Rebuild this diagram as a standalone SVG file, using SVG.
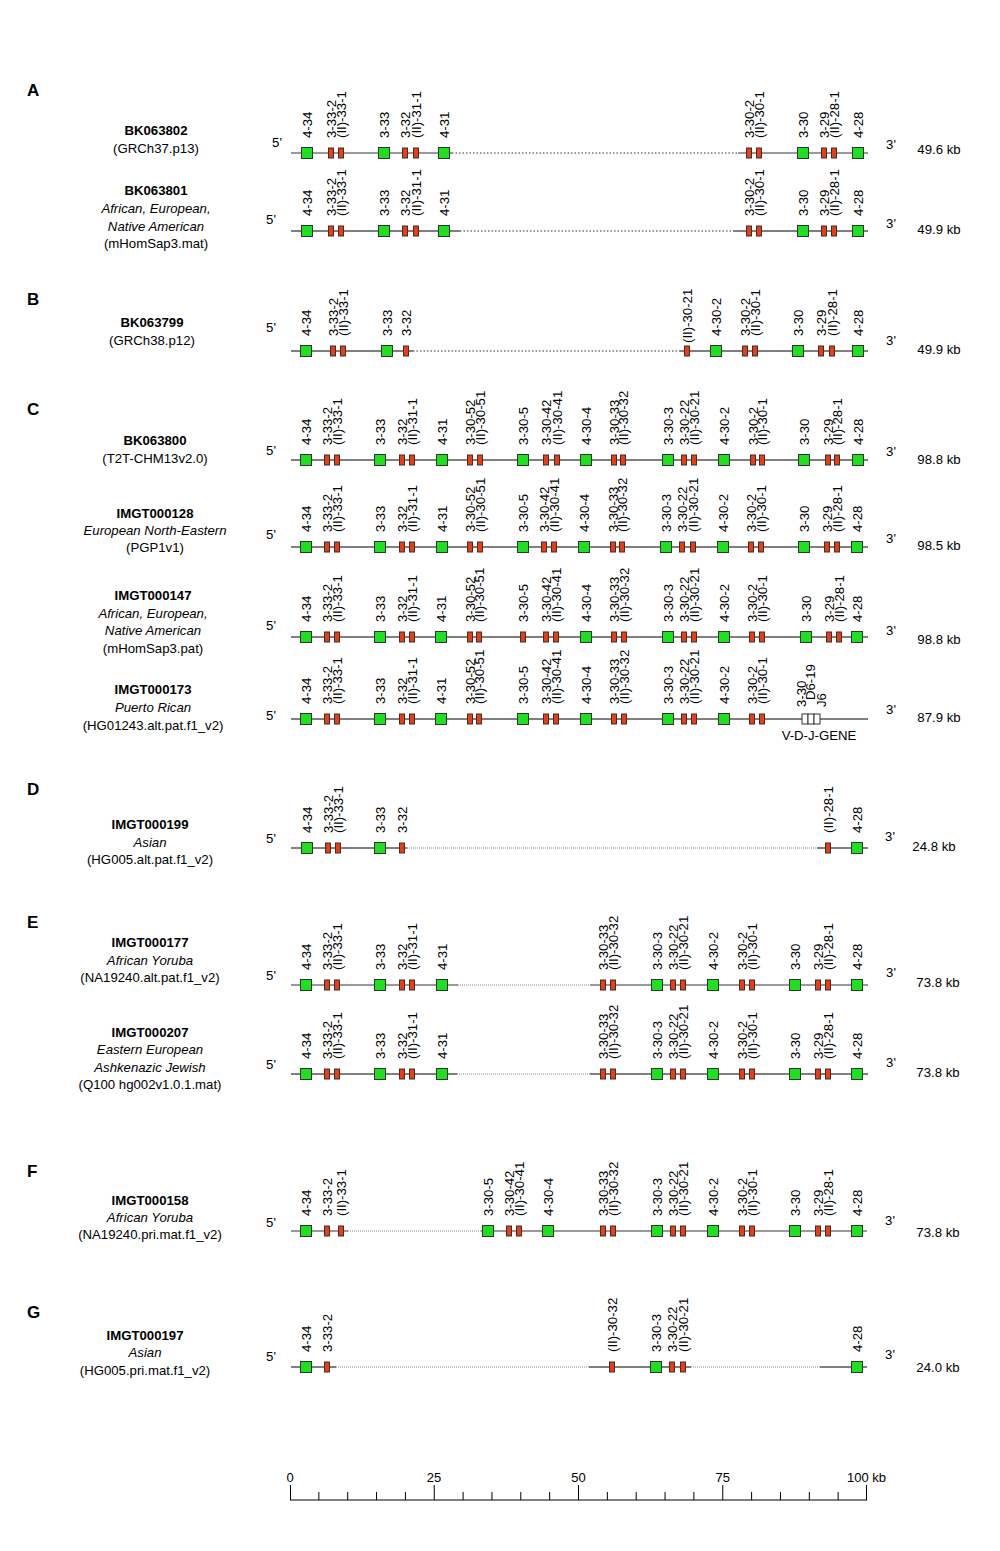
<svg xmlns="http://www.w3.org/2000/svg" width="1000" height="1551" viewBox="0 0 1000 1551">
<style>
text{font-family:"Liberation Sans",Arial,Helvetica,sans-serif;fill:#000}
.G{fill:#1ee01e;stroke:#333;stroke-width:1}
.R{fill:#f03a10;stroke:#333;stroke-width:1}
.W{fill:#fff;stroke:#333;stroke-width:1}
.t text{font-size:13.2px}
.sl{font-size:14.7px;text-anchor:middle}
.b{font-weight:bold}
.i{font-style:italic}
.end{font-size:13.5px;text-anchor:middle}
.kb{font-size:14px;text-anchor:middle}
.sec{font-size:17px;font-weight:bold}
.s{stroke:#000;stroke-width:1;fill:none}
.sg{stroke:#777;stroke-width:1.6;fill:none}
.d{stroke:#333;stroke-width:1;stroke-dasharray:1.5 2;fill:none}
.df{stroke:#888;stroke-width:1;stroke-dasharray:1 1;fill:none}
.sc{stroke:#000;stroke-width:1;fill:none}
.scl{font-size:13px;text-anchor:middle}
</style>
<rect width="1000" height="1551" fill="#fff"/>

<g id="section-letters">
<text class="sec" x="27" y="96">A</text>
<text class="sec" x="27" y="305">B</text>
<text class="sec" x="27" y="415">C</text>
<text class="sec" x="27" y="795">D</text>
<text class="sec" x="27" y="928">E</text>
<text class="sec" x="27" y="1177">F</text>
<text class="sec" x="27" y="1318">G</text>
</g>

<g id="connectors">
<line class="sg" x1="291" y1="153" x2="452" y2="153"/><line class="d" x1="452" y1="153" x2="738" y2="153"/><line class="sg" x1="738" y1="153" x2="868" y2="153"/>
<line class="s" x1="291" y1="231" x2="460" y2="231"/><line class="d" x1="460" y1="231" x2="733" y2="231"/><line class="s" x1="733" y1="231" x2="868" y2="231"/>
<line class="s" x1="291" y1="351" x2="413" y2="351"/><line class="d" x1="413" y1="351" x2="680" y2="351"/><line class="s" x1="680" y1="351" x2="868" y2="351"/>
<line class="s" x1="291" y1="460" x2="868" y2="460"/>
<line class="s" x1="291" y1="547" x2="868" y2="547"/>
<line class="s" x1="291" y1="637" x2="868" y2="637"/>
<line class="s" x1="291" y1="719" x2="868" y2="719"/>
<line class="s" x1="291" y1="848" x2="407" y2="848"/><line class="df" x1="407" y1="848" x2="817" y2="848"/><line class="s" x1="817" y1="848" x2="868" y2="848"/>
<line class="sg" x1="291" y1="985" x2="458" y2="985"/><line class="df" x1="458" y1="985" x2="590" y2="985"/><line class="sg" x1="590" y1="985" x2="868" y2="985"/>
<line class="s" x1="291" y1="1074" x2="457" y2="1074"/><line class="df" x1="457" y1="1074" x2="590" y2="1074"/><line class="s" x1="590" y1="1074" x2="868" y2="1074"/>
<line class="sg" x1="291" y1="1231" x2="348" y2="1231"/><line class="df" x1="348" y1="1231" x2="481" y2="1231"/><line class="sg" x1="481" y1="1231" x2="867" y2="1231"/>
<line class="s" x1="291" y1="1367" x2="336" y2="1367"/><line class="df" x1="336" y1="1367" x2="589" y2="1367"/><line class="s" x1="589" y1="1367" x2="691" y2="1367"/><line class="df" x1="691" y1="1367" x2="820" y2="1367"/><line class="s" x1="820" y1="1367" x2="867" y2="1367"/>
</g>

<!-- A1 -->
<g id="track-BK063802" class="t">
<text class="sl b" x="156" y="135">BK063802</text>
<text class="sl" x="156" y="153">(GRCh37.p13)</text>
<text class="end" x="277" y="146.5">5'</text><text class="end" x="891" y="149">3'</text><text class="kb" x="939" y="154">49.6 kb</text>
<rect class="G" x="301.5" y="147.5" width="11" height="11"/><text transform="translate(311.6,138) rotate(-90)">4-34</text>
<rect class="R" x="328.5" y="148" width="5" height="10"/><text transform="translate(335.6,138) rotate(-90)">3-33-2</text>
<rect class="R" x="338.5" y="148" width="5" height="10"/><text transform="translate(345.6,138) rotate(-90)">(II)-33-1</text>
<rect class="G" x="378.5" y="147.5" width="11" height="11"/><text transform="translate(388.6,138) rotate(-90)">3-33</text>
<rect class="R" x="402.5" y="148" width="5" height="10"/><text transform="translate(409.6,138) rotate(-90)">3-32</text>
<rect class="R" x="413.5" y="148" width="5" height="10"/><text transform="translate(420.6,138) rotate(-90)">(II)-31-1</text>
<rect class="G" x="438.5" y="147.5" width="11" height="11"/><text transform="translate(448.6,138) rotate(-90)">4-31</text>
<rect class="R" x="746.5" y="148" width="5" height="10"/><text transform="translate(753.6,138) rotate(-90)">3-30-2</text>
<rect class="R" x="756.5" y="148" width="5" height="10"/><text transform="translate(763.6,138) rotate(-90)">(II)-30-1</text>
<rect class="G" x="797.5" y="147.5" width="11" height="11"/><text transform="translate(807.6,138) rotate(-90)">3-30</text>
<rect class="R" x="821.5" y="148" width="5" height="10"/><text transform="translate(828.6,138) rotate(-90)">3-29</text>
<rect class="R" x="831.5" y="148" width="5" height="10"/><text transform="translate(838.6,138) rotate(-90)">(II)-28-1</text>
<rect class="G" x="852.5" y="147.5" width="11" height="11"/><text transform="translate(862.6,138) rotate(-90)">4-28</text>
</g>

<!-- A2 -->
<g id="track-BK063801" class="t">
<text class="sl b" x="156" y="195">BK063801</text>
<text class="sl i" x="156" y="213">African, European,</text>
<text class="sl i" x="156" y="230.5">Native American</text>
<text class="sl" x="156" y="248">(mHomSap3.mat)</text>
<text class="end" x="271" y="224">5'</text><text class="end" x="891" y="228">3'</text><text class="kb" x="939" y="234">49.9 kb</text>
<rect class="G" x="301.5" y="225.5" width="11" height="11"/><text transform="translate(311.6,216) rotate(-90)">4-34</text>
<rect class="R" x="328.5" y="226" width="5" height="10"/><text transform="translate(335.6,216) rotate(-90)">3-33-2</text>
<rect class="R" x="338.5" y="226" width="5" height="10"/><text transform="translate(345.6,216) rotate(-90)">(II)-33-1</text>
<rect class="G" x="378.5" y="225.5" width="11" height="11"/><text transform="translate(388.6,216) rotate(-90)">3-33</text>
<rect class="R" x="402.5" y="226" width="5" height="10"/><text transform="translate(409.6,216) rotate(-90)">3-32</text>
<rect class="R" x="413.5" y="226" width="5" height="10"/><text transform="translate(420.6,216) rotate(-90)">(II)-31-1</text>
<rect class="G" x="438.5" y="225.5" width="11" height="11"/><text transform="translate(448.6,216) rotate(-90)">4-31</text>
<rect class="R" x="746.5" y="226" width="5" height="10"/><text transform="translate(753.6,216) rotate(-90)">3-30-2</text>
<rect class="R" x="756.5" y="226" width="5" height="10"/><text transform="translate(763.6,216) rotate(-90)">(II)-30-1</text>
<rect class="G" x="797.5" y="225.5" width="11" height="11"/><text transform="translate(807.6,216) rotate(-90)">3-30</text>
<rect class="R" x="821.5" y="226" width="5" height="10"/><text transform="translate(828.6,216) rotate(-90)">3-29</text>
<rect class="R" x="831.5" y="226" width="5" height="10"/><text transform="translate(838.6,216) rotate(-90)">(II)-28-1</text>
<rect class="G" x="852.5" y="225.5" width="11" height="11"/><text transform="translate(862.6,216) rotate(-90)">4-28</text>
</g>

<!-- B -->
<g id="track-BK063799" class="t">
<text class="sl b" x="152" y="327">BK063799</text>
<text class="sl" x="152" y="345">(GRCh38.p12)</text>
<text class="end" x="271" y="331.5">5'</text><text class="end" x="891" y="345">3'</text><text class="kb" x="939" y="354">49.9 kb</text>
<rect class="G" x="300.5" y="345.5" width="11" height="11"/><text transform="translate(310.6,336) rotate(-90)">4-34</text>
<rect class="R" x="330.5" y="346" width="5" height="10"/><text transform="translate(337.6,336) rotate(-90)">3-33-2</text>
<rect class="R" x="340.5" y="346" width="5" height="10"/><text transform="translate(347.6,336) rotate(-90)">(II)-33-1</text>
<rect class="G" x="381.5" y="345.5" width="11" height="11"/><text transform="translate(391.6,336) rotate(-90)">3-33</text>
<rect class="R" x="403.5" y="346" width="5" height="10"/><text transform="translate(410.6,336) rotate(-90)">3-32</text>
<rect class="R" x="684.5" y="346" width="5" height="10"/><text transform="translate(691.6,343) rotate(-90)">(II)-30-21</text>
<rect class="G" x="710.5" y="345.5" width="11" height="11"/><text transform="translate(720.6,336) rotate(-90)">4-30-2</text>
<rect class="R" x="742.5" y="346" width="5" height="10"/><text transform="translate(749.6,336) rotate(-90)">3-30-2</text>
<rect class="R" x="752.5" y="346" width="5" height="10"/><text transform="translate(759.6,336) rotate(-90)">(II)-30-1</text>
<rect class="G" x="792.5" y="345.5" width="11" height="11"/><text transform="translate(802.6,336) rotate(-90)">3-30</text>
<rect class="R" x="818.5" y="346" width="5" height="10"/><text transform="translate(825.6,336) rotate(-90)">3-29</text>
<rect class="R" x="829.5" y="346" width="5" height="10"/><text transform="translate(836.6,336) rotate(-90)">(II)-28-1</text>
<rect class="G" x="852.5" y="345.5" width="11" height="11"/><text transform="translate(862.6,336) rotate(-90)">4-28</text>
</g>

<!-- C1 -->
<g id="track-BK063800" class="t">
<text class="sl b" x="155" y="445">BK063800</text>
<text class="sl" x="155" y="463">(T2T-CHM13v2.0)</text>
<text class="end" x="271" y="455">5'</text><text class="end" x="891" y="456">3'</text><text class="kb" x="939" y="464">98.8 kb</text>
<rect class="G" x="300.5" y="454.5" width="11" height="11"/><text transform="translate(310.6,445) rotate(-90)">4-34</text>
<rect class="R" x="324.5" y="455" width="5" height="10"/><text transform="translate(331.6,445) rotate(-90)">3-33-2</text>
<rect class="R" x="334.5" y="455" width="5" height="10"/><text transform="translate(341.6,445) rotate(-90)">(II)-33-1</text>
<rect class="G" x="374.5" y="454.5" width="11" height="11"/><text transform="translate(384.6,445) rotate(-90)">3-33</text>
<rect class="R" x="399.5" y="455" width="5" height="10"/><text transform="translate(406.6,445) rotate(-90)">3-32</text>
<rect class="R" x="409.5" y="455" width="5" height="10"/><text transform="translate(416.6,445) rotate(-90)">(II)-31-1</text>
<rect class="G" x="436.5" y="454.5" width="11" height="11"/><text transform="translate(446.6,445) rotate(-90)">4-31</text>
<rect class="R" x="467.5" y="455" width="5" height="10"/><text transform="translate(474.6,445) rotate(-90)">3-30-52</text>
<rect class="R" x="477.5" y="455" width="5" height="10"/><text transform="translate(484.6,445) rotate(-90)">(II)-30-51</text>
<rect class="G" x="517.5" y="454.5" width="11" height="11"/><text transform="translate(527.6,445) rotate(-90)">3-30-5</text>
<rect class="R" x="543.5" y="455" width="5" height="10"/><text transform="translate(550.6,445) rotate(-90)">3-30-42</text>
<rect class="R" x="554.5" y="455" width="5" height="10"/><text transform="translate(561.6,445) rotate(-90)">(II)-30-41</text>
<rect class="G" x="580.5" y="454.5" width="11" height="11"/><text transform="translate(590.6,445) rotate(-90)">4-30-4</text>
<rect class="R" x="611.5" y="455" width="5" height="10"/><text transform="translate(618.6,445) rotate(-90)">3-30-33</text>
<rect class="R" x="620.5" y="455" width="5" height="10"/><text transform="translate(627.6,445) rotate(-90)">(II)-30-32</text>
<rect class="G" x="662.5" y="454.5" width="11" height="11"/><text transform="translate(672.6,445) rotate(-90)">3-30-3</text>
<rect class="R" x="681.5" y="455" width="5" height="10"/><text transform="translate(688.6,445) rotate(-90)">3-30-22</text>
<rect class="R" x="691.5" y="455" width="5" height="10"/><text transform="translate(698.6,445) rotate(-90)">(II)-30-21</text>
<rect class="G" x="718.5" y="454.5" width="11" height="11"/><text transform="translate(728.6,445) rotate(-90)">4-30-2</text>
<rect class="R" x="750.5" y="455" width="5" height="10"/><text transform="translate(757.6,445) rotate(-90)">3-30-2</text>
<rect class="R" x="759.5" y="455" width="5" height="10"/><text transform="translate(766.6,445) rotate(-90)">(II)-30-1</text>
<rect class="G" x="798.5" y="454.5" width="11" height="11"/><text transform="translate(808.6,445) rotate(-90)">3-30</text>
<rect class="R" x="825.5" y="455" width="5" height="10"/><text transform="translate(832.6,445) rotate(-90)">3-29</text>
<rect class="R" x="834.5" y="455" width="5" height="10"/><text transform="translate(841.6,445) rotate(-90)">(II)-28-1</text>
<rect class="G" x="852.5" y="454.5" width="11" height="11"/><text transform="translate(862.6,445) rotate(-90)">4-28</text>
</g>

<!-- C2 -->
<g id="track-IMGT000128" class="t">
<text class="sl b" x="155" y="518">IMGT000128</text>
<text class="sl i" x="155" y="535">European North-Eastern</text>
<text class="sl" x="155" y="552">(PGP1v1)</text>
<text class="end" x="271" y="539">5'</text><text class="end" x="891" y="542.5">3'</text><text class="kb" x="939" y="550">98.5 kb</text>
<rect class="G" x="300.5" y="541.5" width="11" height="11"/><text transform="translate(310.6,532) rotate(-90)">4-34</text>
<rect class="R" x="324.5" y="542" width="5" height="10"/><text transform="translate(331.6,532) rotate(-90)">3-33-2</text>
<rect class="R" x="334.5" y="542" width="5" height="10"/><text transform="translate(341.6,532) rotate(-90)">(II)-33-1</text>
<rect class="G" x="374.5" y="541.5" width="11" height="11"/><text transform="translate(384.6,532) rotate(-90)">3-33</text>
<rect class="R" x="399.5" y="542" width="5" height="10"/><text transform="translate(406.6,532) rotate(-90)">3-32</text>
<rect class="R" x="409.5" y="542" width="5" height="10"/><text transform="translate(416.6,532) rotate(-90)">(II)-31-1</text>
<rect class="G" x="436.5" y="541.5" width="11" height="11"/><text transform="translate(446.6,532) rotate(-90)">4-31</text>
<rect class="R" x="467.5" y="542" width="5" height="10"/><text transform="translate(474.6,532) rotate(-90)">3-30-52</text>
<rect class="R" x="477.5" y="542" width="5" height="10"/><text transform="translate(484.6,532) rotate(-90)">(II)-30-51</text>
<rect class="G" x="517.5" y="541.5" width="11" height="11"/><text transform="translate(527.6,532) rotate(-90)">3-30-5</text>
<rect class="R" x="541.5" y="542" width="5" height="10"/><text transform="translate(548.6,532) rotate(-90)">3-30-42</text>
<rect class="R" x="551.5" y="542" width="5" height="10"/><text transform="translate(558.6,532) rotate(-90)">(II)-30-41</text>
<rect class="G" x="578.5" y="541.5" width="11" height="11"/><text transform="translate(588.6,532) rotate(-90)">4-30-4</text>
<rect class="R" x="610.5" y="542" width="5" height="10"/><text transform="translate(617.6,532) rotate(-90)">3-30-33</text>
<rect class="R" x="619.5" y="542" width="5" height="10"/><text transform="translate(626.6,532) rotate(-90)">(II)-30-32</text>
<rect class="G" x="660.5" y="541.5" width="11" height="11"/><text transform="translate(670.6,532) rotate(-90)">3-30-3</text>
<rect class="R" x="679.5" y="542" width="5" height="10"/><text transform="translate(686.6,532) rotate(-90)">3-30-22</text>
<rect class="R" x="690.5" y="542" width="5" height="10"/><text transform="translate(697.6,532) rotate(-90)">(II)-30-21</text>
<rect class="G" x="717.5" y="541.5" width="11" height="11"/><text transform="translate(727.6,532) rotate(-90)">4-30-2</text>
<rect class="R" x="748.5" y="542" width="5" height="10"/><text transform="translate(755.6,532) rotate(-90)">3-30-2</text>
<rect class="R" x="758.5" y="542" width="5" height="10"/><text transform="translate(765.6,532) rotate(-90)">(II)-30-1</text>
<rect class="G" x="798.5" y="541.5" width="11" height="11"/><text transform="translate(808.6,532) rotate(-90)">3-30</text>
<rect class="R" x="824.5" y="542" width="5" height="10"/><text transform="translate(831.6,532) rotate(-90)">3-29</text>
<rect class="R" x="834.5" y="542" width="5" height="10"/><text transform="translate(841.6,532) rotate(-90)">(II)-28-1</text>
<rect class="G" x="851.5" y="541.5" width="11" height="11"/><text transform="translate(861.6,532) rotate(-90)">4-28</text>
</g>

<!-- C3 -->
<g id="track-IMGT000147" class="t">
<text class="sl b" x="153" y="600">IMGT000147</text>
<text class="sl i" x="153" y="617.5">African, European,</text>
<text class="sl i" x="153" y="635">Native American</text>
<text class="sl" x="153" y="652.5">(mHomSap3.pat)</text>
<text class="end" x="271" y="630">5'</text><text class="end" x="891" y="635">3'</text><text class="kb" x="939" y="644">98.8 kb</text>
<rect class="G" x="300.5" y="631.5" width="11" height="11"/><text transform="translate(310.6,622) rotate(-90)">4-34</text>
<rect class="R" x="324.5" y="632" width="5" height="10"/><text transform="translate(331.6,622) rotate(-90)">3-33-2</text>
<rect class="R" x="334.5" y="632" width="5" height="10"/><text transform="translate(341.6,622) rotate(-90)">(II)-33-1</text>
<rect class="G" x="374.5" y="631.5" width="11" height="11"/><text transform="translate(384.6,622) rotate(-90)">3-33</text>
<rect class="R" x="399.5" y="632" width="5" height="10"/><text transform="translate(406.6,622) rotate(-90)">3-32</text>
<rect class="R" x="409.5" y="632" width="5" height="10"/><text transform="translate(416.6,622) rotate(-90)">(II)-31-1</text>
<rect class="G" x="435.5" y="631.5" width="11" height="11"/><text transform="translate(445.6,622) rotate(-90)">4-31</text>
<rect class="R" x="467.5" y="632" width="5" height="10"/><text transform="translate(474.6,622) rotate(-90)">3-30-52</text>
<rect class="R" x="476.5" y="632" width="5" height="10"/><text transform="translate(483.6,622) rotate(-90)">(II)-30-51</text>
<rect class="R" x="520.5" y="632" width="5" height="10"/><text transform="translate(527.6,622) rotate(-90)">3-30-5</text>
<rect class="R" x="543.5" y="632" width="5" height="10"/><text transform="translate(550.6,622) rotate(-90)">3-30-42</text>
<rect class="R" x="553.5" y="632" width="5" height="10"/><text transform="translate(560.6,622) rotate(-90)">(II)-30-41</text>
<rect class="G" x="580.5" y="631.5" width="11" height="11"/><text transform="translate(590.6,622) rotate(-90)">4-30-4</text>
<rect class="R" x="611.5" y="632" width="5" height="10"/><text transform="translate(618.6,622) rotate(-90)">3-30-33</text>
<rect class="R" x="621.5" y="632" width="5" height="10"/><text transform="translate(628.6,622) rotate(-90)">(II)-30-32</text>
<rect class="G" x="662.5" y="631.5" width="11" height="11"/><text transform="translate(672.6,622) rotate(-90)">3-30-3</text>
<rect class="R" x="681.5" y="632" width="5" height="10"/><text transform="translate(688.6,622) rotate(-90)">3-30-22</text>
<rect class="R" x="691.5" y="632" width="5" height="10"/><text transform="translate(698.6,622) rotate(-90)">(II)-30-21</text>
<rect class="G" x="718.5" y="631.5" width="11" height="11"/><text transform="translate(728.6,622) rotate(-90)">4-30-2</text>
<rect class="R" x="749.5" y="632" width="5" height="10"/><text transform="translate(756.6,622) rotate(-90)">3-30-2</text>
<rect class="R" x="759.5" y="632" width="5" height="10"/><text transform="translate(766.6,622) rotate(-90)">(II)-30-1</text>
<rect class="G" x="800.5" y="631.5" width="11" height="11"/><text transform="translate(810.6,622) rotate(-90)">3-30</text>
<rect class="R" x="826.5" y="632" width="5" height="10"/><text transform="translate(833.6,622) rotate(-90)">3-29</text>
<rect class="R" x="836.5" y="632" width="5" height="10"/><text transform="translate(843.6,622) rotate(-90)">(II)-28-1</text>
<rect class="G" x="851.5" y="631.5" width="11" height="11"/><text transform="translate(861.6,622) rotate(-90)">4-28</text>
</g>

<!-- C4 -->
<g id="track-IMGT000173" class="t">
<text class="sl b" x="153" y="694">IMGT000173</text>
<text class="sl i" x="153" y="711.5">Puerto Rican</text>
<text class="sl" x="153" y="730">(HG01243.alt.pat.f1_v2)</text>
<text class="end" x="271" y="720">5'</text><text class="end" x="891" y="714">3'</text><text class="kb" x="939" y="721.5">87.9 kb</text>
<rect class="G" x="300.5" y="713.5" width="11" height="11"/><text transform="translate(310.6,704) rotate(-90)">4-34</text>
<rect class="R" x="324.5" y="714" width="5" height="10"/><text transform="translate(331.6,704) rotate(-90)">3-33-2</text>
<rect class="R" x="334.5" y="714" width="5" height="10"/><text transform="translate(341.6,704) rotate(-90)">(II)-33-1</text>
<rect class="G" x="374.5" y="713.5" width="11" height="11"/><text transform="translate(384.6,704) rotate(-90)">3-33</text>
<rect class="R" x="399.5" y="714" width="5" height="10"/><text transform="translate(406.6,704) rotate(-90)">3-32</text>
<rect class="R" x="409.5" y="714" width="5" height="10"/><text transform="translate(416.6,704) rotate(-90)">(II)-31-1</text>
<rect class="G" x="435.5" y="713.5" width="11" height="11"/><text transform="translate(445.6,704) rotate(-90)">4-31</text>
<rect class="R" x="467.5" y="714" width="5" height="10"/><text transform="translate(474.6,704) rotate(-90)">3-30-52</text>
<rect class="R" x="476.5" y="714" width="5" height="10"/><text transform="translate(483.6,704) rotate(-90)">(II)-30-51</text>
<rect class="G" x="517.5" y="713.5" width="11" height="11"/><text transform="translate(527.6,704) rotate(-90)">3-30-5</text>
<rect class="R" x="543.5" y="714" width="5" height="10"/><text transform="translate(550.6,704) rotate(-90)">3-30-42</text>
<rect class="R" x="553.5" y="714" width="5" height="10"/><text transform="translate(560.6,704) rotate(-90)">(II)-30-41</text>
<rect class="G" x="580.5" y="713.5" width="11" height="11"/><text transform="translate(590.6,704) rotate(-90)">4-30-4</text>
<rect class="R" x="611.5" y="714" width="5" height="10"/><text transform="translate(618.6,704) rotate(-90)">3-30-33</text>
<rect class="R" x="621.5" y="714" width="5" height="10"/><text transform="translate(628.6,704) rotate(-90)">(II)-30-32</text>
<rect class="G" x="662.5" y="713.5" width="11" height="11"/><text transform="translate(672.6,704) rotate(-90)">3-30-3</text>
<rect class="R" x="681.5" y="714" width="5" height="10"/><text transform="translate(688.6,704) rotate(-90)">3-30-22</text>
<rect class="R" x="691.5" y="714" width="5" height="10"/><text transform="translate(698.6,704) rotate(-90)">(II)-30-21</text>
<rect class="G" x="718.5" y="713.5" width="11" height="11"/><text transform="translate(728.6,704) rotate(-90)">4-30-2</text>
<rect class="R" x="749.5" y="714" width="5" height="10"/><text transform="translate(756.6,704) rotate(-90)">3-30-2</text>
<rect class="R" x="759.5" y="714" width="5" height="10"/><text transform="translate(766.6,704) rotate(-90)">(II)-30-1</text>
<g id="vdj-gene">
<rect class="W" x="802" y="714" width="6" height="10"/>
<rect class="W" x="808" y="714" width="6" height="10"/>
<rect class="W" x="814" y="714" width="6" height="10"/>
<text transform="translate(806.3,707) rotate(-90)">3-30</text>
<text transform="translate(815.3,700) rotate(-90)">D6-19</text>
<text transform="translate(826.3,707) rotate(-90)">J6</text>
<text x="819" y="740" style="text-anchor:middle">V-D-J-GENE</text>
</g>
</g>

<!-- D -->
<g id="track-IMGT000199" class="t">
<text class="sl b" x="150" y="829">IMGT000199</text>
<text class="sl i" x="150" y="846.5">Asian</text>
<text class="sl" x="150" y="864">(HG005.alt.pat.f1_v2)</text>
<text class="end" x="271" y="843">5'</text><text class="end" x="890" y="840.5">3'</text><text class="kb" x="934" y="851">24.8 kb</text>
<rect class="G" x="301.5" y="842.5" width="11" height="11"/><text transform="translate(311.6,833) rotate(-90)">4-34</text>
<rect class="R" x="325.5" y="843" width="5" height="10"/><text transform="translate(332.6,833) rotate(-90)">3-33-2</text>
<rect class="R" x="335.5" y="843" width="5" height="10"/><text transform="translate(342.6,833) rotate(-90)">(II)-33-1</text>
<rect class="G" x="374.5" y="842.5" width="11" height="11"/><text transform="translate(384.6,833) rotate(-90)">3-33</text>
<rect class="R" x="399.5" y="843" width="5" height="10"/><text transform="translate(406.6,833) rotate(-90)">3-32</text>
<rect class="R" x="825.5" y="843" width="5" height="10"/><text transform="translate(832.6,833) rotate(-90)">(II)-28-1</text>
<rect class="G" x="851.5" y="842.5" width="11" height="11"/><text transform="translate(861.6,833) rotate(-90)">4-28</text>
</g>

<!-- E1 -->
<g id="track-IMGT000177" class="t">
<text class="sl b" x="150" y="947">IMGT000177</text>
<text class="sl i" x="150" y="965">African Yoruba</text>
<text class="sl" x="150" y="982">(NA19240.alt.pat.f1_v2)</text>
<text class="end" x="271" y="980">5'</text><text class="end" x="891" y="976.5">3'</text><text class="kb" x="938" y="987">73.8 kb</text>
<rect class="G" x="300.5" y="979.5" width="11" height="11"/><text transform="translate(310.6,970) rotate(-90)">4-34</text>
<rect class="R" x="324.5" y="980" width="5" height="10"/><text transform="translate(331.6,970) rotate(-90)">3-33-2</text>
<rect class="R" x="334.5" y="980" width="5" height="10"/><text transform="translate(341.6,970) rotate(-90)">(II)-33-1</text>
<rect class="G" x="374.5" y="979.5" width="11" height="11"/><text transform="translate(384.6,970) rotate(-90)">3-33</text>
<rect class="R" x="399.5" y="980" width="5" height="10"/><text transform="translate(406.6,970) rotate(-90)">3-32</text>
<rect class="R" x="409.5" y="980" width="5" height="10"/><text transform="translate(416.6,970) rotate(-90)">(II)-31-1</text>
<rect class="G" x="436.5" y="979.5" width="11" height="11"/><text transform="translate(446.6,970) rotate(-90)">4-31</text>
<rect class="R" x="600.5" y="980" width="5" height="10"/><text transform="translate(607.6,970) rotate(-90)">3-30-33</text>
<rect class="R" x="610.5" y="980" width="5" height="10"/><text transform="translate(617.6,970) rotate(-90)">(II)-30-32</text>
<rect class="G" x="651.5" y="979.5" width="11" height="11"/><text transform="translate(661.6,970) rotate(-90)">3-30-3</text>
<rect class="R" x="670.5" y="980" width="5" height="10"/><text transform="translate(677.6,970) rotate(-90)">3-30-22</text>
<rect class="R" x="680.5" y="980" width="5" height="10"/><text transform="translate(687.6,970) rotate(-90)">(II)-30-21</text>
<rect class="G" x="707.5" y="979.5" width="11" height="11"/><text transform="translate(717.6,970) rotate(-90)">4-30-2</text>
<rect class="R" x="739.5" y="980" width="5" height="10"/><text transform="translate(746.6,970) rotate(-90)">3-30-2</text>
<rect class="R" x="749.5" y="980" width="5" height="10"/><text transform="translate(756.6,970) rotate(-90)">(II)-30-1</text>
<rect class="G" x="789.5" y="979.5" width="11" height="11"/><text transform="translate(799.6,970) rotate(-90)">3-30</text>
<rect class="R" x="815.5" y="980" width="5" height="10"/><text transform="translate(822.6,970) rotate(-90)">3-29</text>
<rect class="R" x="825.5" y="980" width="5" height="10"/><text transform="translate(832.6,970) rotate(-90)">(II)-28-1</text>
<rect class="G" x="851.5" y="979.5" width="11" height="11"/><text transform="translate(861.6,970) rotate(-90)">4-28</text>
</g>

<!-- E2 -->
<g id="track-IMGT000207" class="t">
<text class="sl b" x="150" y="1036.5">IMGT000207</text>
<text class="sl i" x="150" y="1054">Eastern European</text>
<text class="sl i" x="150" y="1071.5">Ashkenazic Jewish</text>
<text class="sl" x="150" y="1089">(Q100 hg002v1.0.1.mat)</text>
<text class="end" x="271" y="1069">5'</text><text class="end" x="891" y="1066.5">3'</text><text class="kb" x="938" y="1076.5">73.8 kb</text>
<rect class="G" x="300.5" y="1068.5" width="11" height="11"/><text transform="translate(310.6,1059) rotate(-90)">4-34</text>
<rect class="R" x="324.5" y="1069" width="5" height="10"/><text transform="translate(331.6,1059) rotate(-90)">3-33-2</text>
<rect class="R" x="334.5" y="1069" width="5" height="10"/><text transform="translate(341.6,1059) rotate(-90)">(II)-33-1</text>
<rect class="G" x="374.5" y="1068.5" width="11" height="11"/><text transform="translate(384.6,1059) rotate(-90)">3-33</text>
<rect class="R" x="399.5" y="1069" width="5" height="10"/><text transform="translate(406.6,1059) rotate(-90)">3-32</text>
<rect class="R" x="409.5" y="1069" width="5" height="10"/><text transform="translate(416.6,1059) rotate(-90)">(II)-31-1</text>
<rect class="G" x="436.5" y="1068.5" width="11" height="11"/><text transform="translate(446.6,1059) rotate(-90)">4-31</text>
<rect class="R" x="600.5" y="1069" width="5" height="10"/><text transform="translate(607.6,1059) rotate(-90)">3-30-33</text>
<rect class="R" x="610.5" y="1069" width="5" height="10"/><text transform="translate(617.6,1059) rotate(-90)">(II)-30-32</text>
<rect class="G" x="651.5" y="1068.5" width="11" height="11"/><text transform="translate(661.6,1059) rotate(-90)">3-30-3</text>
<rect class="R" x="670.5" y="1069" width="5" height="10"/><text transform="translate(677.6,1059) rotate(-90)">3-30-22</text>
<rect class="R" x="680.5" y="1069" width="5" height="10"/><text transform="translate(687.6,1059) rotate(-90)">(II)-30-21</text>
<rect class="G" x="707.5" y="1068.5" width="11" height="11"/><text transform="translate(717.6,1059) rotate(-90)">4-30-2</text>
<rect class="R" x="739.5" y="1069" width="5" height="10"/><text transform="translate(746.6,1059) rotate(-90)">3-30-2</text>
<rect class="R" x="749.5" y="1069" width="5" height="10"/><text transform="translate(756.6,1059) rotate(-90)">(II)-30-1</text>
<rect class="G" x="789.5" y="1068.5" width="11" height="11"/><text transform="translate(799.6,1059) rotate(-90)">3-30</text>
<rect class="R" x="815.5" y="1069" width="5" height="10"/><text transform="translate(822.6,1059) rotate(-90)">3-29</text>
<rect class="R" x="825.5" y="1069" width="5" height="10"/><text transform="translate(832.6,1059) rotate(-90)">(II)-28-1</text>
<rect class="G" x="851.5" y="1068.5" width="11" height="11"/><text transform="translate(861.6,1059) rotate(-90)">4-28</text>
</g>

<!-- F -->
<g id="track-IMGT000158" class="t">
<text class="sl b" x="150" y="1205">IMGT000158</text>
<text class="sl i" x="150" y="1222">African Yoruba</text>
<text class="sl" x="150" y="1239">(NA19240.pri.mat.f1_v2)</text>
<text class="end" x="271" y="1226.5">5'</text><text class="end" x="890" y="1225">3'</text><text class="kb" x="938" y="1236.5">73.8 kb</text>
<rect class="G" x="300.5" y="1225.5" width="11" height="11"/><text transform="translate(310.6,1216) rotate(-90)">4-34</text>
<rect class="R" x="324.5" y="1226" width="5" height="10"/><text transform="translate(331.6,1216) rotate(-90)">3-33-2</text>
<rect class="R" x="338.5" y="1226" width="5" height="10"/><text transform="translate(345.6,1216) rotate(-90)">(II)-33-1</text>
<rect class="G" x="482.5" y="1225.5" width="11" height="11"/><text transform="translate(492.6,1216) rotate(-90)">3-30-5</text>
<rect class="R" x="506.5" y="1226" width="5" height="10"/><text transform="translate(513.6,1216) rotate(-90)">3-30-42</text>
<rect class="R" x="516.5" y="1226" width="5" height="10"/><text transform="translate(523.6,1216) rotate(-90)">(II)-30-41</text>
<rect class="G" x="542.5" y="1225.5" width="11" height="11"/><text transform="translate(552.6,1216) rotate(-90)">4-30-4</text>
<rect class="R" x="600.5" y="1226" width="5" height="10"/><text transform="translate(607.6,1216) rotate(-90)">3-30-33</text>
<rect class="R" x="610.5" y="1226" width="5" height="10"/><text transform="translate(617.6,1216) rotate(-90)">(II)-30-32</text>
<rect class="G" x="651.5" y="1225.5" width="11" height="11"/><text transform="translate(661.6,1216) rotate(-90)">3-30-3</text>
<rect class="R" x="670.5" y="1226" width="5" height="10"/><text transform="translate(677.6,1216) rotate(-90)">3-30-22</text>
<rect class="R" x="680.5" y="1226" width="5" height="10"/><text transform="translate(687.6,1216) rotate(-90)">(II)-30-21</text>
<rect class="G" x="707.5" y="1225.5" width="11" height="11"/><text transform="translate(717.6,1216) rotate(-90)">4-30-2</text>
<rect class="R" x="739.5" y="1226" width="5" height="10"/><text transform="translate(746.6,1216) rotate(-90)">3-30-2</text>
<rect class="R" x="749.5" y="1226" width="5" height="10"/><text transform="translate(756.6,1216) rotate(-90)">(II)-30-1</text>
<rect class="G" x="789.5" y="1225.5" width="11" height="11"/><text transform="translate(799.6,1216) rotate(-90)">3-30</text>
<rect class="R" x="815.5" y="1226" width="5" height="10"/><text transform="translate(822.6,1216) rotate(-90)">3-29</text>
<rect class="R" x="825.5" y="1226" width="5" height="10"/><text transform="translate(832.6,1216) rotate(-90)">(II)-28-1</text>
<rect class="G" x="851.5" y="1225.5" width="11" height="11"/><text transform="translate(861.6,1216) rotate(-90)">4-28</text>
</g>

<!-- G -->
<g id="track-IMGT000197" class="t">
<text class="sl b" x="145" y="1340">IMGT000197</text>
<text class="sl i" x="145" y="1357">Asian</text>
<text class="sl" x="145" y="1375">(HG005.pri.mat.f1_v2)</text>
<text class="end" x="271" y="1360.5">5'</text><text class="end" x="890" y="1359">3'</text><text class="kb" x="938" y="1372">24.0 kb</text>
<rect class="G" x="300.5" y="1361.5" width="11" height="11"/><text transform="translate(310.6,1352) rotate(-90)">4-34</text>
<rect class="R" x="324.5" y="1362" width="5" height="10"/><text transform="translate(331.6,1352) rotate(-90)">3-33-2</text>
<rect class="R" x="609.5" y="1362" width="5" height="10"/><text transform="translate(616.6,1352) rotate(-90)">(II)-30-32</text>
<rect class="G" x="650.5" y="1361.5" width="11" height="11"/><text transform="translate(660.6,1352) rotate(-90)">3-30-3</text>
<rect class="R" x="669.5" y="1362" width="5" height="10"/><text transform="translate(676.6,1352) rotate(-90)">3-30-22</text>
<rect class="R" x="680.5" y="1362" width="5" height="10"/><text transform="translate(687.6,1352) rotate(-90)">(II)-30-21</text>
<rect class="G" x="851.5" y="1361.5" width="11" height="11"/><text transform="translate(861.6,1352) rotate(-90)">4-28</text>
</g>

<!-- scale -->
<g id="scale-bar">
<line class="sc" x1="290" y1="1500" x2="867" y2="1500"/>
<path class="sc" d="M290.5 1485V1500M318.85 1492V1500M347.7 1492V1500M376.55 1492V1500M405.4 1492V1500M434.25 1485V1500M463.1 1492V1500M491.95 1492V1500M520.8 1492V1500M549.65 1492V1500M578.5 1485V1500M607.35 1492V1500M636.2 1492V1500M665.05 1492V1500M693.9 1492V1500M722.75 1485V1500M751.6 1492V1500M780.45 1492V1500M809.3 1492V1500M838.15 1492V1500M866.5 1485V1500"/>
<text class="scl" x="290" y="1482">0</text>
<text class="scl" x="434" y="1482">25</text>
<text class="scl" x="578.5" y="1482">50</text>
<text class="scl" x="722.75" y="1482">75</text>
<text x="847" y="1482" style="font-size:13px">100 kb</text>
</g>
</svg>
